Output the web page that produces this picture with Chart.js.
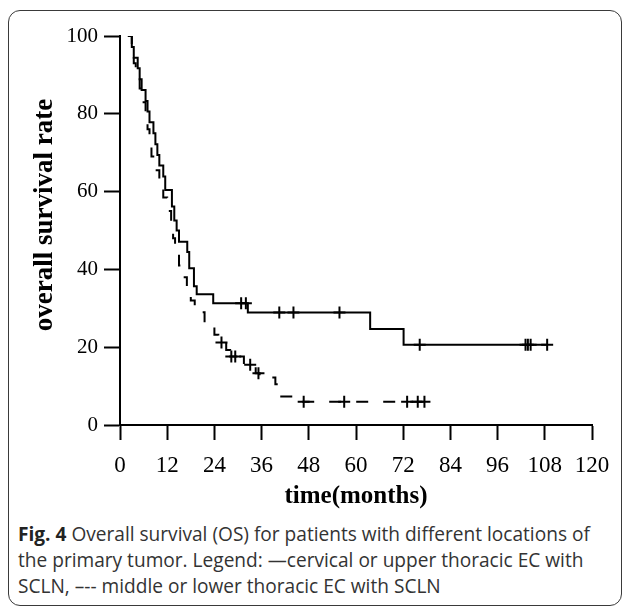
<!DOCTYPE html>
<html>
<head>
<meta charset="utf-8">
<script src="https://cdn.jsdelivr.net/npm/chart.js@4"></script>
<style>
  html, body { margin: 0; padding: 0; background: #fff; }
  body { width: 630px; height: 607px; position: relative; overflow: hidden; }
  #box { position: absolute; left: 8px; top: 10px; width: 614px; height: 596px; box-sizing: border-box;
         border: 1.5px solid #3a3a3a; border-radius: 12px; }
  #c { position: absolute; left: 0; top: 0; }
  #cap { position: absolute; left: 18px; top: 521px; width: 610px; font-family: "Open Sans", sans-serif;
         font-size: 19.1px; line-height: 26px; color: #333; white-space: nowrap; }
  #cap b { color: #222; }
</style>
</head>
<body>
<div id="box"></div>
<canvas id="c" width="630" height="520"></canvas>
<div id="cap"><b>Fig. 4</b> Overall survival (OS) for patients with different locations of<br>the primary tumor. Legend: —cervical or upper thoracic EC with<br>SCLN, –-- middle or lower thoracic EC with SCLN</div>
<script>
// Solid curve: cervical or upper thoracic EC with SCLN (event times, survival after event)
const solidTimes = [2, 3, 3.5, 4.5, 5, 5.5, 6.5, 7, 7.5, 8.5, 9, 9.5, 10, 11, 11.5, 13.2, 13.8, 14.4, 15, 17.1, 17.6, 18.8, 19.5, 23.7, 32.5, 63.6, 72.1, 108.6];
const solidRates = [100, 97.2, 94.4, 91.7, 88.9, 86.1, 83.3, 80.6, 77.8, 75, 72.2, 69.4, 66.7, 63.9, 60.4, 56.2, 52.6, 50, 47.1, 44.5, 40.3, 35.7, 33.6, 31.3, 28.9, 24.7, 20.6, 20.6];
const solidCensorTimes = [30.8, 32.0, 40.5, 44.1, 55.8, 76.2, 103.1, 103.7, 104.4, 108.6];

// Dashed curve: middle or lower thoracic EC with SCLN
const dashedTimes = [2, 3, 3.5, 4, 5, 6, 6.5, 7, 7.5, 8, 9, 10, 11, 12, 13, 13.5, 14, 15, 15.7, 17, 18, 19, 21.5, 24, 25, 27, 28, 31.5, 34.5, 35.5, 39.5, 40.5, 45.8, 77.4];
const dashedRates = [100, 96.5, 93, 90, 86.5, 83, 79.5, 76, 72.5, 69, 65.5, 62, 58.5, 55, 51.5, 48, 44.5, 41, 38, 35, 32, 29, 25.7, 23.2, 21.2, 19.3, 17.6, 15.5, 13.3, 12.2, 10.5, 7.3, 6.0, 6.0];
const dashedCensorTimes = [25.8, 28.3, 29.3, 33.1, 35.2, 46.7, 57.0, 73.0, 75.7, 77.4];

const xMin = 0, xMax = 120, xStep = 12;
const yMin = 0, yMax = 100, yStep = 20;
const xTitle = 'time(months)';
const yTitle = 'overall survival rate';

function levelAt(times, rates, t) {
  let v = rates[0];
  for (let i = 0; i < times.length; i++) { if (times[i] <= t) v = rates[i]; }
  return v;
}
const pts = (ts, rs) => ts.map((t, i) => ({ x: t, y: rs[i] }));
const cens = (ct, ts, rs) => ct.map(t => ({ x: t, y: levelAt(ts, rs, t) }));

const serif = '"Liberation Serif", "Times New Roman", serif';

// y-axis title drawn as rotated text, centred where the reference puts it
const yTitlePlugin = {
  id: 'yTitle',
  afterDraw(chart) {
    const ctx = chart.ctx;
    ctx.save();
    ctx.translate(45, 215);
    ctx.rotate(-Math.PI / 2);
    ctx.font = 'bold 27px ' + serif;
    ctx.fillStyle = '#000';
    ctx.textAlign = 'center';
    ctx.textBaseline = 'middle';
    ctx.fillText(yTitle, 0, 0);
    ctx.restore();
  }
};

new Chart(document.getElementById('c'), {
  type: 'scatter',
  data: {
    datasets: [
      { data: pts(solidTimes, solidRates), showLine: true, stepped: 'before', borderColor: '#000', borderWidth: 2,
        pointRadius: 0, fill: false },
      { data: pts(dashedTimes, dashedRates), showLine: true, stepped: 'before', borderColor: '#000', borderWidth: 2,
        borderDash: [12, 15], pointRadius: 0, fill: false },
      { data: cens(solidCensorTimes, solidTimes, solidRates), showLine: false, pointStyle: 'cross',
        pointRadius: 6, pointBorderWidth: 2, borderColor: '#000', backgroundColor: '#000' },
      { data: cens(dashedCensorTimes, dashedTimes, dashedRates), showLine: false, pointStyle: 'cross',
        pointRadius: 6, pointBorderWidth: 2, borderColor: '#000', backgroundColor: '#000' }
    ]
  },
  options: {
    responsive: false, animation: false, devicePixelRatio: 1,
    layout: { padding: { top: 36, right: 38, left: 0, bottom: 0 } },
    plugins: { legend: { display: false }, tooltip: { enabled: false } },
    elements: { point: { hoverRadius: 6 } },
    scales: {
      x: {
        type: 'linear', min: xMin, max: xMax,
        afterFit: s => { s.height = 95; },
        ticks: { stepSize: xStep, color: '#000', padding: 12, maxRotation: 0,
                 font: { family: serif, size: 23 } },
        grid: { drawOnChartArea: false, drawTicks: true, tickLength: 15, tickColor: '#000', tickWidth: 2 },
        border: { display: true, color: '#000', width: 2 },
        title: { display: true, text: xTitle, color: '#000', padding: { top: 0, bottom: 8 },
                 font: { family: serif, size: 25, weight: 'bold' } }
      },
      y: {
        type: 'linear', min: yMin, max: yMax,
        afterFit: s => { s.width = 120; },
        ticks: { stepSize: yStep, color: '#000', padding: 6,
                 font: { family: serif, size: 21 } },
        grid: { drawOnChartArea: false, drawTicks: true, tickLength: 16, tickColor: '#000', tickWidth: 2 },
        border: { display: true, color: '#000', width: 2 },
        title: { display: false }
      }
    }
  },
  plugins: [yTitlePlugin]
});
</script>
</body>
</html>
